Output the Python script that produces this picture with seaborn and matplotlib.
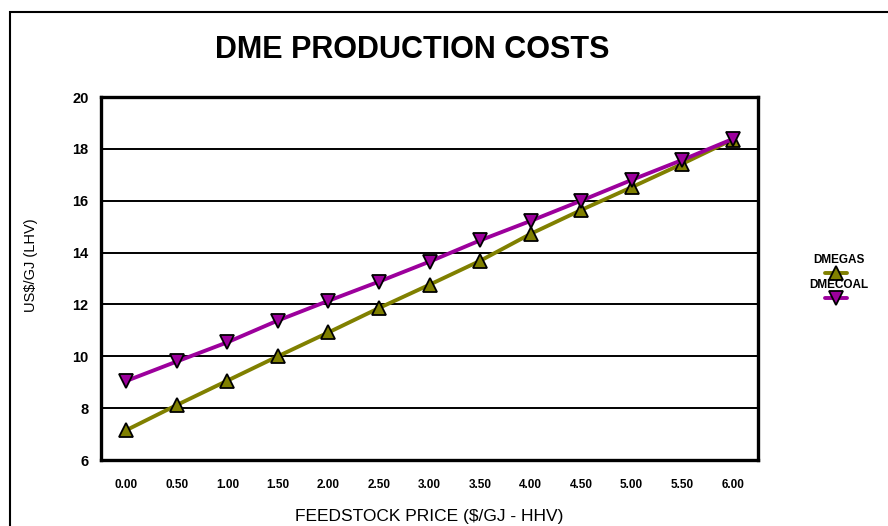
import matplotlib
matplotlib.use("Agg")
import matplotlib.pyplot as plt
from matplotlib.lines import Line2D
from matplotlib.patches import Rectangle
import numpy as np
import pandas as pd
import seaborn as sns

# Feedstock price ($/GJ HHV) and DME production cost (US$/GJ LHV)
price = [0.0, 0.5, 1.0, 1.5, 2.0, 2.5, 3.0, 3.5, 4.0, 4.5, 5.0, 5.5, 6.0]
price_labels = [f"{p:.2f}" for p in price]
dme_gas = [7.15, 8.12, 9.06, 10.0, 10.92, 11.86, 12.76, 13.68, 14.72, 15.64, 16.52, 17.42, 18.36]
dme_coal = [9.05, 9.80, 10.54, 11.38, 12.14, 12.88, 13.65, 14.47, 15.22, 16.00, 16.80, 17.57, 18.38]
series_names = ["DMEGAS", "DMECOAL"]
y_ticks = [6, 8, 10, 12, 14, 16, 18, 20]

OLIVE = "#808000"
MAGENTA = "#9C009C"

sns.set_theme(style="white")
plt.rcParams["font.family"] = ["Liberation Sans", "DejaVu Sans"]
plt.rcParams.update({
    "text.color": "black",
    "axes.labelcolor": "black",
    "xtick.color": "black",
    "ytick.color": "black",
})

df = pd.DataFrame({
    "price": price * 2,
    "cost": dme_gas + dme_coal,
    "series": [series_names[0]] * len(price) + [series_names[1]] * len(price),
})

fig = plt.figure(figsize=(8.88, 5.26), dpi=100)
ax = fig.add_axes([101 / 888, 66 / 526, 657 / 888, 363 / 526])

sns.lineplot(
    data=df, x="price", y="cost", hue="series", style="series",
    palette={series_names[0]: OLIVE, series_names[1]: MAGENTA},
    markers={series_names[0]: "^", series_names[1]: "v"},
    dashes=False, linewidth=2.8, markersize=10,
    markeredgecolor="black", markeredgewidth=1.3,
    legend=False, ax=ax, zorder=3,
)

ax.set_xlim(-0.25, 6.25)
ax.set_ylim(6, 20)
ax.set_xticks(price)
ax.set_xticklabels(price_labels, fontsize=8.5, fontweight="bold")
ax.set_yticks(y_ticks)
ax.set_yticklabels([str(t) for t in y_ticks], fontsize=10.5, fontweight="bold")
ax.tick_params(axis="x", length=0, pad=14)
ax.tick_params(axis="y", length=3, width=1.2, color="black", pad=6)

ax.grid(False)
for t in y_ticks[1:-1]:
    ax.axhline(t, color="black", lw=1.4, zorder=1)
for s in ax.spines.values():
    s.set_color("black")
    s.set_linewidth(2.4)

ax.set_xlabel("FEEDSTOCK PRICE ($/GJ - HHV)", fontsize=12.5, color="black")
ax.set_ylabel("US$/GJ (LHV)", fontsize=10.5, color="black")
ax.xaxis.set_label_coords(0.499, -0.135)
ax.yaxis.set_label_coords(-0.096, 0.537)

fig.text(412 / 888, 1 - 50 / 526, "DME PRODUCTION COSTS", ha="center", va="center",
         fontsize=22, fontweight="bold", color="black")

# Legend: name above a short line with the series marker
legend_items = [
    (series_names[0], OLIVE, "^", 260, 273),
    (series_names[1], MAGENTA, "v", 285, 298),
]
for name, col, mk, ty, my in legend_items:
    fig.text(839 / 888, 1 - ty / 526, name, ha="center", va="center",
             fontsize=8.5, fontweight="bold", color="black")
    fig.add_artist(Line2D([825 / 888, 847 / 888], [1 - my / 526] * 2,
                          transform=fig.transFigure, color=col, lw=2.8))
    fig.add_artist(Line2D([836 / 888], [1 - my / 526], transform=fig.transFigure,
                          marker=mk, markersize=10, color=col,
                          markeredgecolor="black", markeredgewidth=1.3, lw=0))

# Outer chart frame
fig.add_artist(Rectangle((10 / 888, -0.1), 2.0, 1.1 - 12 / 526,
                         transform=fig.transFigure, fill=False,
                         edgecolor="black", lw=1.5))

fig.savefig("out.png", dpi=100)
